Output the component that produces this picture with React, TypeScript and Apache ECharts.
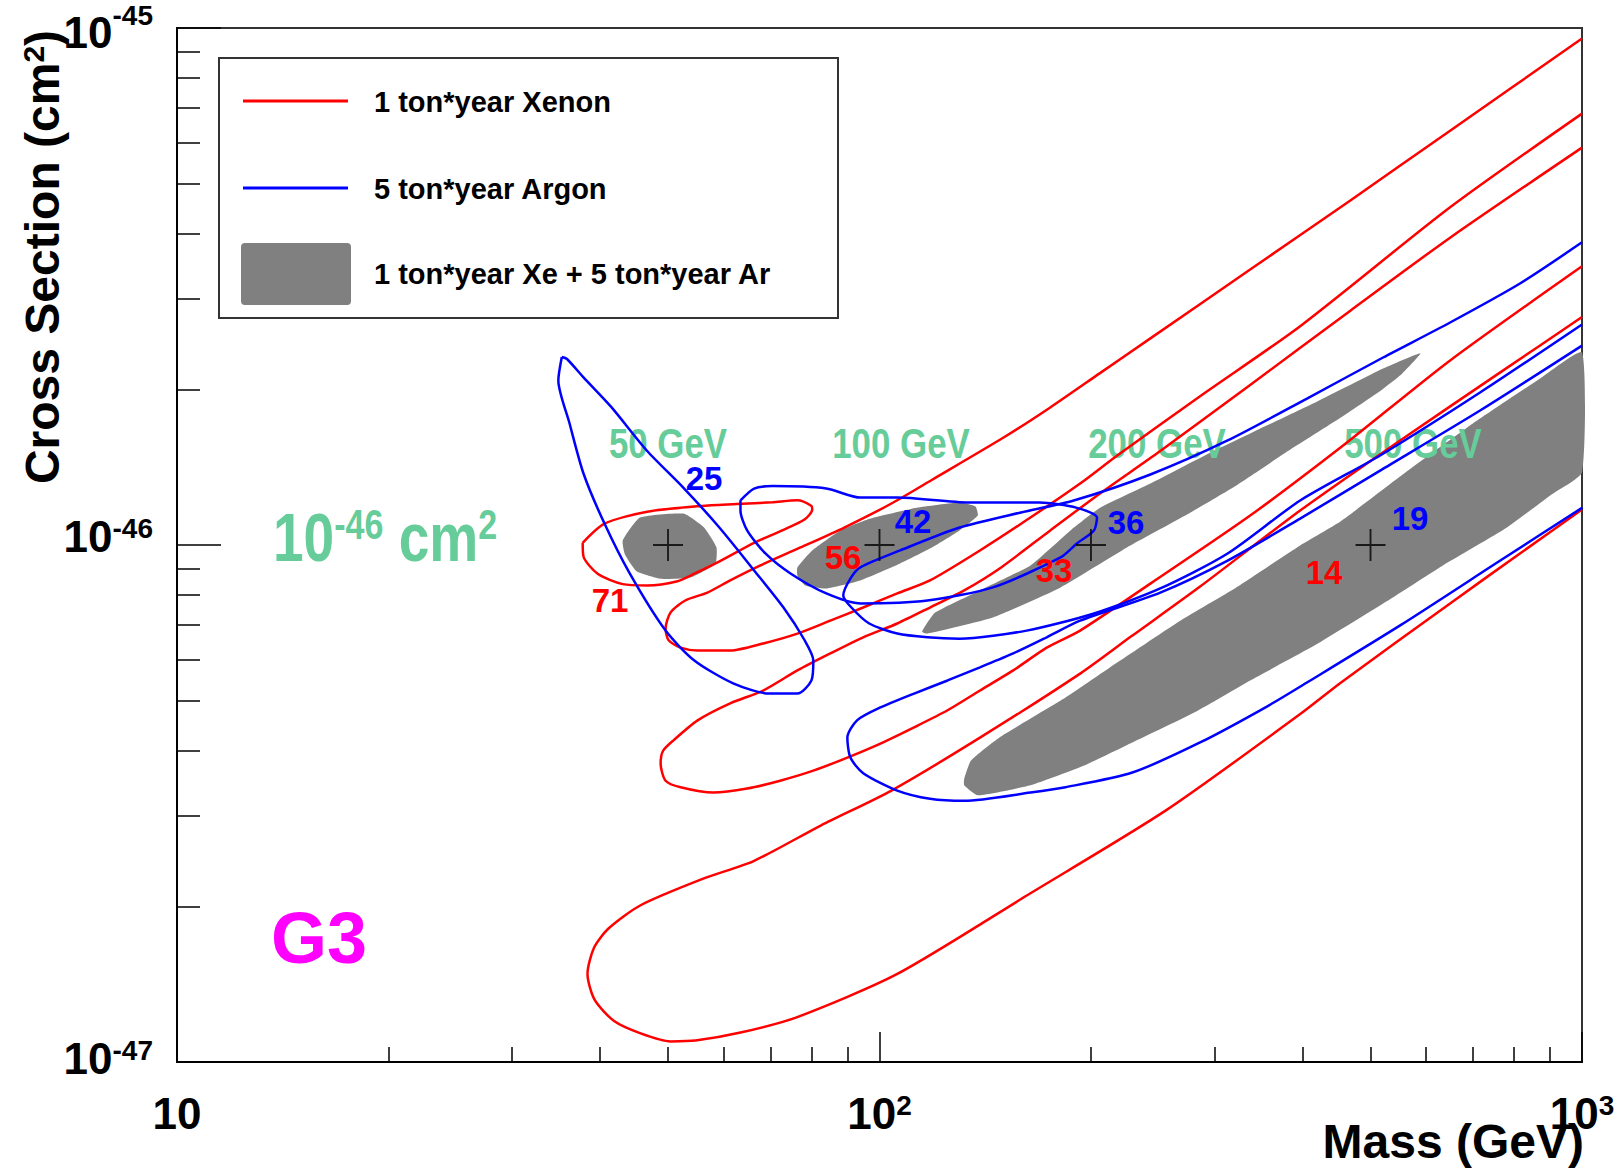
import { useEffect, useRef } from "react";
import * as echarts from "echarts";

// Mass in GeV, cross-section in units of 1e-46 cm^2
const massMinorTicks = [20, 30, 40, 50, 60, 70, 80, 90, 200, 300, 400, 500, 600, 700, 800, 900];
const sigmaMinorTicks = [0.2, 0.3, 0.4, 0.5, 0.6, 0.7, 0.8, 0.9, 2, 3, 4, 5, 6, 7, 8, 9];
const benchmarkMasses = [50, 100, 200, 500];
const benchmarkSigma = 1;

// 1 ton*year Xenon contours
const xenon50 = [[37.8,1.01],[40.6,1.10],[46.7,1.16],[55.8,1.19],[62.6,1.20],[70.4,1.21],[76.4,1.22],[80.0,1.19],[80.2,1.17],[78.2,1.12],[73.0,1.07],[66.3,1.01],[59.2,0.93],[54.5,0.88],[51.4,0.85],[46.7,0.835],[43.1,0.84],[39.7,0.88],[37.9,0.95],[37.8,1.01]];
const xenon100 = [[1000,9.54],[649,6.33],[468,4.64],[337,3.41],[243,2.51],[206,2.15],[175,1.845],[151,1.621],[119,1.339],[104,1.203],[89.1,1.081],[77.2,0.989],[67.7,0.913],[61.3,0.854],[56.9,0.809],[52.9,0.781],[50.4,0.740],[49.6,0.689],[50.1,0.654],[52.1,0.633],[55.1,0.625],[61.3,0.625],[68.3,0.645],[76.4,0.674],[85.1,0.714],[94.8,0.757],[106,0.806],[118,0.854],[139,0.976],[164,1.13],[193,1.315],[218,1.49],[286,1.94],[397,2.65],[649,4.50],[1000,6.83]];
const xenon200 = [[1000,5.87],[649,3.93],[468,2.84],[337,2.04],[251,1.52],[206,1.258],[175,1.067],[149,0.905],[132,0.817],[118,0.757],[106,0.705],[94.8,0.663],[85.1,0.617],[76.4,0.572],[68.3,0.523],[61.3,0.494],[55.1,0.458],[50.9,0.419],[49.2,0.400],[48.8,0.378],[49.6,0.350],[52.1,0.340],[58.0,0.332],[64.8,0.338],[72.2,0.350],[80.5,0.366],[90.0,0.388],[100.3,0.413],[112,0.444],[125,0.479],[139,0.523],[155,0.572],[173,0.633],[193,0.683],[243,0.842],[337,1.14],[457,1.557],[649,2.275],[1000,3.46]];
const xenon500 = [[1000,2.76],[765,2.157],[551,1.593],[397,1.166],[286,0.831],[228,0.665],[193,0.564],[139,0.424],[104,0.335],[82.6,0.287],[66.3,0.245],[56.0,0.226],[45.7,0.201],[41.1,0.181],[39.2,0.166],[38.4,0.148],[39.3,0.132],[41.9,0.120],[45.7,0.1136],[50.4,0.1096],[54.7,0.110],[63.4,0.114],[76.2,0.122],[106,0.148],[164,0.212],[256,0.307],[398,0.472],[454,0.542],[649,0.771],[816,0.963],[1000,1.171]];

// 5 ton*year Argon contours
const argon50 = [[35.3,2.31],[34.9,2.08],[36.2,1.72],[37.9,1.375],[40.6,1.10],[44.1,0.881],[49.6,0.683],[54.5,0.598],[61.9,0.54],[69.7,0.516],[76.4,0.516],[80.0,0.547],[80.5,0.598],[78.2,0.655],[73.0,0.757],[66.3,0.893],[59.2,1.08],[52.6,1.29],[46.7,1.52],[41.5,1.85],[37.9,2.11],[35.9,2.29],[35.3,2.31]];
const argon100 = [[63.4,1.22],[66.3,1.286],[70.4,1.30],[84.0,1.286],[93.9,1.235],[106,1.235],[134,1.208],[169,1.208],[191,1.18],[204,1.13],[202,1.067],[191,1.007],[181,0.946],[145,0.828],[117,0.781],[94.1,0.771],[84.0,0.806],[74.7,0.881],[68.8,0.963],[64.8,1.067],[63.4,1.166],[63.4,1.22]];
const argon200 = [[1000,3.85],[816,3.205],[649,2.694],[521,2.305],[406,1.92],[313,1.593],[243,1.369],[189,1.219],[159,1.156],[130,1.081],[107,0.976],[93.9,0.905],[90.9,0.861],[88.8,0.799],[91.2,0.757],[96.7,0.705],[106,0.674],[117,0.663],[130,0.659],[162,0.683],[202,0.737],[251,0.824],[313,0.963],[397,1.219],[516,1.49],[716,1.972],[1000,2.67]];
const argon500 = [[1000,2.43],[716,1.82],[516,1.393],[397,1.125],[313,0.933],[251,0.809],[193,0.714],[173,0.663],[155,0.617],[139,0.580],[125,0.547],[112,0.516],[100.3,0.485],[92.9,0.458],[90.0,0.424],[90.9,0.388],[94.8,0.362],[106,0.335],[118,0.323],[132,0.320],[164,0.332],[184,0.340],[229,0.363],[286,0.415],[356,0.487],[406,0.542],[551,0.699],[765,0.933],[1000,1.18]];

// Combined 1 ton*year Xe + 5 ton*year Ar regions
const combined50 = [[43.1,1.02],[45.6,1.13],[52.6,1.15],[56.3,1.08],[58.6,0.99],[58.4,0.92],[53.8,0.865],[48.9,0.86],[45.1,0.89],[43.4,0.96]];
const combined100 = [[76.4,0.905],[80.2,0.976],[88.0,1.067],[97.1,1.125],[113,1.18],[130,1.208],[137,1.187],[138,1.14],[130,1.067],[118,0.984],[107,0.921],[93.9,0.854],[84.0,0.824],[78.4,0.835],[76.4,0.873]];
const combined200 = [[115,0.68],[120,0.74],[139,0.817],[164,0.913],[187,1.067],[206,1.18],[243,1.315],[296,1.51],[337,1.643],[420,1.895],[521,2.194],[589,2.35],[555,2.147],[518,1.993],[453,1.762],[382,1.521],[323,1.307],[272,1.139],[225,0.989],[181,0.828],[145,0.724],[117,0.674]];
const combined500 = [[132,0.353],[135,0.383],[148,0.424],[184,0.507],[219,0.595],[268,0.714],[322,0.828],[397,0.998],[453,1.11],[564,1.39],[700,1.72],[872,2.10],[1000,2.357],[1000,1.381],[901,1.247],[782,1.081],[634,0.913],[535,0.788],[416,0.639],[337,0.547],[282,0.476],[229,0.415],[196,0.375],[164,0.343],[138,0.328],[132,0.343]];

const benchmarkLabels = ["50 GeV", "100 GeV", "200 GeV", "500 GeV"];
const xenonCounts = ["71", "56", "33", "14"];
const argonCounts = ["25", "42", "36", "19"];

const RED = "#ff0000";
const BLUE = "#0000ff";
const GRAY = "#808080";
const GREEN = "#66cc99";
const FONT = "'Liberation Sans', Arial, sans-serif";

function tok(fontSize: number, lineHeight: number, va: string, color = "#000") {
  return { fontFamily: FONT, fontWeight: "bold", fontSize, lineHeight, verticalAlign: va, color, fill: color };
}

function lineSeries(name: string, data: number[][], color: string) {
  return {
    type: "line",
    name,
    data,
    xAxisIndex: 0,
    yAxisIndex: 0,
    showSymbol: false,
    symbol: "none",
    smooth: 0.25,
    silent: true,
    z: 3,
    lineStyle: { color, width: 2.5 },
  };
}

function areaSeries(name: string, pts: number[][]) {
  return {
    type: "custom",
    name,
    data: pts,
    xAxisIndex: 0,
    yAxisIndex: 0,
    silent: true,
    z: 1,
    encode: { x: 0, y: 1 },
    renderItem: (params: any, api: any) => {
      if (params.dataIndex !== 0) return null;
      return {
        type: "polygon",
        shape: { points: pts.map((p) => api.coord(p)), smooth: 0.15 },
        style: { fill: GRAY },
      };
    },
  };
}

export default function App() {
  const ref = useRef<HTMLDivElement>(null);
  useEffect(() => {
    if (!ref.current) return;
    const chart = echarts.init(ref.current, undefined, { renderer: "svg" });

    const labelPos = [[668, 443], [901, 443], [1157, 443], [1413, 443]];
    const xenonPos = [[610, 600], [843, 557], [1054, 570], [1324, 572]];
    const argonPos = [[704, 478], [913, 521], [1126, 522], [1410, 518]];

    const graphics: any[] = [];
    benchmarkLabels.forEach((t, i) =>
      graphics.push({
        type: "text", x: labelPos[i][0], y: labelPos[i][1], z: 2, scaleX: 0.83,
        style: { text: t, fill: GREEN, font: `bold 42px ${FONT}`, align: "center", verticalAlign: "middle" },
      })
    );
    xenonCounts.forEach((t, i) =>
      graphics.push({
        type: "text", x: xenonPos[i][0], y: xenonPos[i][1], z: 10,
        style: { text: t, fill: RED, font: `bold 33px ${FONT}`, align: "center", verticalAlign: "middle" },
      })
    );
    argonCounts.forEach((t, i) =>
      graphics.push({
        type: "text", x: argonPos[i][0], y: argonPos[i][1], z: 10,
        style: { text: t, fill: BLUE, font: `bold 33px ${FONT}`, align: "center", verticalAlign: "middle" },
      })
    );
    graphics.push(
      {
        type: "text", x: 273, y: 537, z: 10, scaleX: 0.81,
        style: {
          text: "{a|10}{b|-46}{a| cm}{b|2}",
          align: "left", verticalAlign: "middle",
          rich: { a: tok(68, 68, "top", GREEN), b: tok(42, 42, "top", GREEN) },
        },
      },
      {
        type: "text", x: 319, y: 938, z: 10,
        style: { text: "G3", fill: "#ff00ff", font: `bold 72px ${FONT}`, align: "center", verticalAlign: "middle" },
      },
      {
        type: "text", x: 1584, y: 1141, z: 10,
        style: { text: "Mass (GeV)", fill: "#000", font: `bold 48px ${FONT}`, align: "right", verticalAlign: "middle" },
      },
      {
        type: "text", x: 42, y: 257, rotation: Math.PI / 2, z: 10,
        style: {
          text: "{a|Cross Section (cm}{b|2}{a|)}",
          align: "center", verticalAlign: "middle",
          rich: { a: tok(48, 48, "top"), b: tok(30, 31, "top") },
        },
      },
      // legend
      {
        type: "rect", z: 10,
        shape: { x: 219, y: 58, width: 619, height: 260 },
        style: { fill: "#fff", stroke: "#333", lineWidth: 2 },
      },
      { type: "line", z: 11, shape: { x1: 243, y1: 101, x2: 348, y2: 101 }, style: { stroke: RED, lineWidth: 3 } },
      { type: "line", z: 11, shape: { x1: 243, y1: 188, x2: 348, y2: 188 }, style: { stroke: BLUE, lineWidth: 3 } },
      { type: "rect", z: 11, shape: { x: 241, y: 243, width: 110, height: 62, r: 4 }, style: { fill: GRAY } },
      {
        type: "text", x: 374, y: 102, z: 11,
        style: { text: "1 ton*year Xenon", fill: "#000", font: `bold 29px ${FONT}`, align: "left", verticalAlign: "middle" },
      },
      {
        type: "text", x: 374, y: 189, z: 11,
        style: { text: "5 ton*year Argon", fill: "#000", font: `bold 29px ${FONT}`, align: "left", verticalAlign: "middle" },
      },
      {
        type: "text", x: 374, y: 274, z: 11,
        style: { text: "1 ton*year Xe + 5 ton*year Ar", fill: "#000", font: `bold 29px ${FONT}`, align: "left", verticalAlign: "middle" },
      }
    );

    const option: any = {
      animation: false,
      backgroundColor: "#fff",
      grid: {
        left: 177, right: 34, top: 28, bottom: 108,
        show: true, borderColor: "#333", borderWidth: 2,
        outerBoundsMode: "none", containLabel: false,
      },
      xAxis: [
        {
          type: "log", logBase: 10, min: 10, max: 1000, position: "bottom",
          axisLine: { show: true, onZero: false, lineStyle: { color: "#000", width: 2 } },
          axisTick: { show: true, inside: true, length: 30, lineStyle: { color: "#000", width: 1.5 } },
          minorTick: { show: false },
          splitLine: { show: false },
          axisLabel: {
            margin: 29,
            formatter: (v: number) => {
              const e = Math.round(Math.log10(v));
              return e === 1 ? "{m|10}" : `{m|10}{s|${e}}`;
            },
            rich: { m: tok(44, 44, "top"), s: tok(28, 28, "top") },
          },
        },
        {
          type: "log", logBase: 10, min: 10, max: 1000, position: "bottom",
          axisLine: { show: false, onZero: false },
          axisTick: { show: true, inside: true, length: 15, customValues: massMinorTicks, lineStyle: { color: "#000", width: 1.5 } },
          axisLabel: { show: false },
          splitLine: { show: false },
        },
      ],
      yAxis: [
        {
          type: "log", logBase: 10, min: 0.1, max: 10, position: "left",
          axisLine: { show: true, onZero: false, lineStyle: { color: "#000", width: 2 } },
          axisTick: { show: true, inside: true, length: 44, lineStyle: { color: "#000", width: 1.5 } },
          minorTick: { show: false },
          splitLine: { show: false },
          axisLabel: {
            margin: 24,
            formatter: (v: number) => {
              const e = Math.round(Math.log10(v));
              if (e >= 1) return "{spT| }{mT|10}{sT|-45}";
              if (e === 0) return "{spM| }{mM|10}{sM|-46}";
              return "{spB| }{mB|10}{sB|-47}";
            },
            rich: {
              spT: tok(1, 53, "top"), mT: tok(44, 44, "bottom"), sT: tok(28, 34, "top"),
              spM: tok(1, 62, "top"), mM: tok(44, 44, "top"), sM: tok(28, 28, "top"),
              spB: tok(1, 52, "top"), mB: tok(44, 44, "top"), sB: tok(28, 29, "top"),
            },
          },
        },
        {
          type: "log", logBase: 10, min: 0.1, max: 10, position: "left",
          axisLine: { show: false, onZero: false },
          axisTick: { show: true, inside: true, length: 23, customValues: sigmaMinorTicks, lineStyle: { color: "#000", width: 1.5 } },
          axisLabel: { show: false },
          splitLine: { show: false },
        },
      ],
      series: [
        areaSeries("combined 50 GeV", combined50),
        areaSeries("combined 100 GeV", combined100),
        areaSeries("combined 200 GeV", combined200),
        areaSeries("combined 500 GeV", combined500),
        lineSeries("Xenon 50 GeV", xenon50, RED),
        lineSeries("Xenon 100 GeV", xenon100, RED),
        lineSeries("Xenon 200 GeV", xenon200, RED),
        lineSeries("Xenon 500 GeV", xenon500, RED),
        lineSeries("Argon 50 GeV", argon50, BLUE),
        lineSeries("Argon 100 GeV", argon100, BLUE),
        lineSeries("Argon 200 GeV", argon200, BLUE),
        lineSeries("Argon 500 GeV", argon500, BLUE),
        {
          type: "scatter",
          name: "benchmarks",
          data: benchmarkMasses.map((m) => [m, benchmarkSigma]),
          symbol: "path://M-1,-16h2v32h-2zM-16,-1h32v2h-32z",
          symbolSize: [30, 32],
          itemStyle: { color: "#000" },
          silent: true,
          z: 4,
        },
      ],
      graphic: graphics,
    };
    chart.setOption(option);
    return () => chart.dispose();
  }, []);
  return (
    <div
      ref={ref}
      style={{ position: "fixed", left: 0, top: 0, width: 1616, height: 1170, background: "#fff" }}
    />
  );
}
